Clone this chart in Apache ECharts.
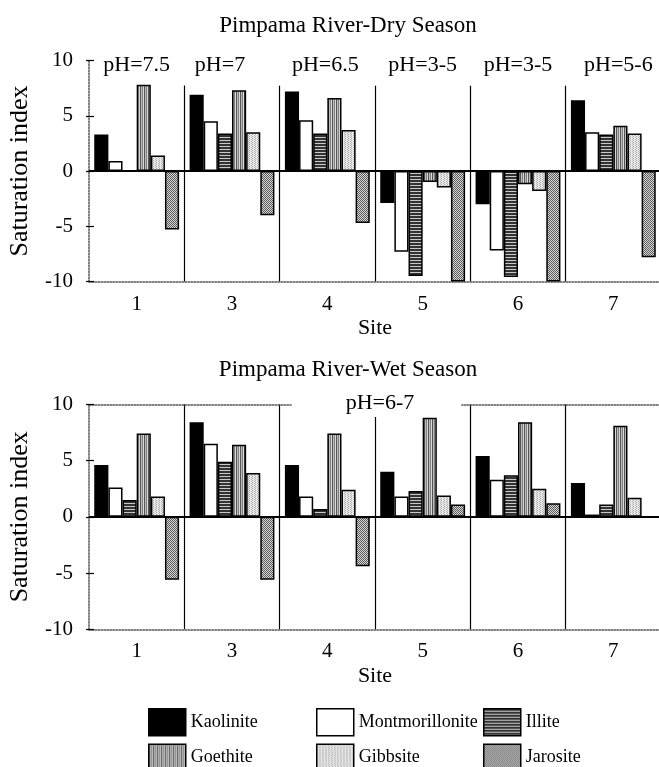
<!DOCTYPE html>
<html>
<head>
<meta charset="utf-8">
<script src="https://cdn.jsdelivr.net/npm/echarts@6/dist/echarts.min.js"></script>
<style>
  html, body { margin: 0; padding: 0; background: #fff; }
  #chart { width: 659px; height: 767px; }
</style>
</head>
<body>
<div id="chart"></div>
<script>
var sites = ['1', '3', '4', '5', '6', '7'];
var minerals = ['Kaolinite', 'Montmorillonite', 'Illite', 'Goethite', 'Gibbsite', 'Jarosite'];
var phDry = ['pH=7.5', 'pH=7', 'pH=6.5', 'pH=3-5', 'pH=3-5', 'pH=5-6'];
var phWet = 'pH=6-7';

// dry season
var kaoliniteDry = [3.3, 6.9, 7.2, -2.9, -3.0, 6.4];
var montmorilloniteDry = [0.9, 4.5, 4.6, -7.3, -7.2, 3.5];
var illiteDry = [0, 3.4, 3.4, -9.5, -9.6, 3.3];
var goethiteDry = [7.8, 7.3, 6.6, -1.0, -1.2, 4.1];
var gibbsiteDry = [1.4, 3.5, 3.7, -1.5, -1.8, 3.4];
var jarositeDry = [-5.3, -4.0, -4.7, -10, -10, -7.8];

// wet season
var kaoliniteWet = [4.6, 8.4, 4.6, 4.0, 5.4, 3.0];
var montmorilloniteWet = [2.6, 6.5, 1.8, 1.8, 3.3, 0.2];
var illiteWet = [1.5, 4.9, 0.7, 2.3, 3.7, 1.1];
var goethiteWet = [7.4, 6.4, 7.4, 8.8, 8.4, 8.1];
var gibbsiteWet = [1.8, 3.9, 2.4, 1.9, 2.5, 1.7];
var jarositeWet = [-5.6, -5.6, -4.4, 1.1, 1.2, 0];

var dryData = [kaoliniteDry, montmorilloniteDry, illiteDry, goethiteDry, gibbsiteDry, jarositeDry];
var wetData = [kaoliniteWet, montmorilloniteWet, illiteWet, goethiteWet, gibbsiteWet, jarositeWet];

var FONT = '"Liberation Serif", "DejaVu Serif", serif';

function makePattern(w, h, draw) {
    var c = document.createElement('canvas');
    c.width = w;
    c.height = h;
    draw(c.getContext('2d'));
    return { image: c, repeat: 'repeat' };
}

function px(ctx, x, y, col) {
    ctx.fillStyle = col;
    ctx.fillRect(x, y, 1, 1);
}

var fills = [
    '#000',
    '#fff',
    makePattern(4, 3, function (ctx) {
        ctx.fillStyle = '#333';
        ctx.fillRect(0, 0, 4, 3);
        ctx.fillStyle = '#c8c8c8';
        ctx.fillRect(0, 2, 4, 1);
    }),
    makePattern(4, 1, function (ctx) {
        var cols = ['#555', '#bbb', '#808080', '#d8d8d8'];
        for (var i = 0; i < 4; i++) px(ctx, i, 0, cols[i]);
    }),
    makePattern(3, 2, function (ctx) {
        ctx.fillStyle = '#eaeaea';
        ctx.fillRect(0, 0, 3, 2);
        px(ctx, 0, 0, '#a8a8a8');
        px(ctx, 2, 1, '#b8b8b8');
    }),
    makePattern(2, 2, function (ctx) {
        px(ctx, 0, 0, '#5a5a5a');
        px(ctx, 1, 1, '#5a5a5a');
        px(ctx, 1, 0, '#d8d8d8');
        px(ctx, 0, 1, '#d8d8d8');
    })
];

var chart = echarts.init(document.getElementById('chart'));

function buildSeries(dataSets, xIdx, yIdx) {
    return dataSets.map(function (vals, i) {
        var s = {
            name: minerals[i],
            type: 'bar',
            xAxisIndex: xIdx,
            yAxisIndex: yIdx,
            barGap: '0%',
            barCategoryGap: '11%',
            data: vals,
            itemStyle: { color: fills[i], borderColor: '#000', borderWidth: 1.5 }
        };
        if (i === 0) {
            s.markLine = {
                silent: true,
                symbol: 'none',
                label: { show: false },
                lineStyle: { color: '#000', width: 2, type: 'solid' },
                data: [{ yAxis: 0 }]
            };
        }
        return s;
    });
}

function bottomAxis(gridIndex) {
    return {
        type: 'category',
        gridIndex: gridIndex,
        position: 'bottom',
        data: sites,
        name: 'Site',
        nameLocation: 'middle',
        nameGap: 36,
        nameTextStyle: { fontFamily: FONT, fontSize: 22, color: '#000' },
        axisLine: { onZero: false, lineStyle: { color: '#555', type: 'dotted', width: 1.5 } },
        axisTick: { length: 8, lineStyle: { color: '#000', width: 1.5 } },
        axisLabel: { fontFamily: FONT, fontSize: 21, color: '#000', margin: 12 },
        splitLine: {
            show: true,
            interval: function (i) { return i > 0; },
            lineStyle: { color: '#000', width: 1.2 }
        }
    };
}

function valueAxes(gridIndex) {
    return [{
        type: 'value',
        gridIndex: gridIndex,
        min: -10,
        max: 10,
        interval: 5,
        name: 'Saturation index',
        nameLocation: 'middle',
        nameGap: 56,
        nameTextStyle: { fontFamily: FONT, fontSize: 26, color: '#000' },
        axisLine: { show: true, onZero: false, lineStyle: { color: '#555', type: 'dotted', width: 1.5 } },
        axisTick: { show: true, inside: true, length: 5, lineStyle: { color: '#000', width: 1.2 } },
        axisLabel: { fontFamily: FONT, fontSize: 21, color: '#000', margin: 16 },
        splitLine: { show: false }
    }, {
        type: 'value',
        gridIndex: gridIndex,
        position: 'left',
        min: -10,
        max: 10,
        interval: 5,
        axisLine: { show: false, onZero: false },
        axisTick: { show: true, length: 3, lineStyle: { color: '#000', width: 1.2 } },
        axisLabel: { show: false },
        splitLine: { show: false }
    }];
}

var titleStyle = { fontFamily: FONT, fontSize: 23, fontWeight: 'normal', color: '#000' };

// white boxes behind the pH labels hide the top of the site dividers
var phBox = { fontFamily: FONT, fontSize: 22, color: '#000', backgroundColor: '#fff', align: 'center' };
var phRich = {
    f: Object.assign({ width: 78, padding: [0, 0, 9, 0] }, phBox),
    l: Object.assign({ width: 97, padding: [0, 24, 9, 0] }, phBox),
    m: Object.assign({ width: 97, padding: [0, 4, 9, 0] }, phBox),
    b: Object.assign({ width: 97, padding: [0, 0, 9, 0] }, phBox),
    r: Object.assign({ width: 97, padding: [0, 0, 9, 10] }, phBox)
};
var phStyle = ['f', 'l', 'm', 'b', 'b', 'r'];

var option = {
    animation: false,
    backgroundColor: '#fff',
    title: [{
        text: 'Pimpama River-Dry Season',
        left: 343, top: 9, textAlign: 'center',
        textStyle: titleStyle
    }, {
        text: 'Pimpama River-Wet Season',
        left: 343, top: 353, textAlign: 'center',
        textStyle: titleStyle
    }, {
        text: phWet,
        left: 326, top: 388, textAlign: 'center',
        padding: [4, 47, 3, 54],
        backgroundColor: '#fff',
        textStyle: { fontFamily: FONT, fontSize: 22, fontWeight: 'normal', color: '#000' }
    }],
    legend: [
        { data: ['Kaolinite', 'Goethite'], left: 148 },
        { data: ['Montmorillonite', 'Gibbsite'], left: 316 },
        { data: ['Illite', 'Jarosite'], left: 483 }
    ].map(function (l) {
        l.top = 708;
        l.height = 90;
        l.padding = 0;
        l.orient = 'vertical';
        l.itemGap = 7;
        l.itemWidth = 37;
        l.itemHeight = 27;
        l.icon = 'rect';
        l.selectedMode = false;
        l.itemStyle = { borderColor: '#000', borderWidth: 1.5 };
        l.textStyle = { fontFamily: FONT, fontSize: 18, color: '#000' };
        return l;
    }),
    grid: [
        { left: 89, top: 60.5, width: 572, height: 221, outerBoundsMode: 'none' },
        { left: 89, top: 404.3, width: 572, height: 225, outerBoundsMode: 'none' }
    ],
    xAxis: [
        bottomAxis(0),
        {
            type: 'category',
            gridIndex: 0,
            position: 'top',
            data: sites,
            axisLine: { show: false, onZero: false },
            axisTick: { show: false },
            axisLabel: {
                interval: 0,
                showMinLabel: true,
                showMaxLabel: true,
                hideOverlap: false,
                margin: -25,
                rich: phRich,
                formatter: function (v, i) { return '{' + phStyle[i] + '|' + phDry[i] + '}'; }
            },
            splitLine: { show: false }
        },
        bottomAxis(1),
        {
            type: 'category',
            gridIndex: 1,
            position: 'top',
            data: sites,
            axisLine: { show: true, onZero: false, lineStyle: { color: '#555', type: 'dotted', width: 1.5 } },
            axisTick: { show: false },
            axisLabel: { show: false },
            splitLine: { show: false }
        }
    ],
    yAxis: valueAxes(0).concat(valueAxes(1)),
    series: buildSeries(dryData, 0, 0).concat(buildSeries(wetData, 2, 2))
};

chart.setOption(option);
</script>
</body>
</html>
